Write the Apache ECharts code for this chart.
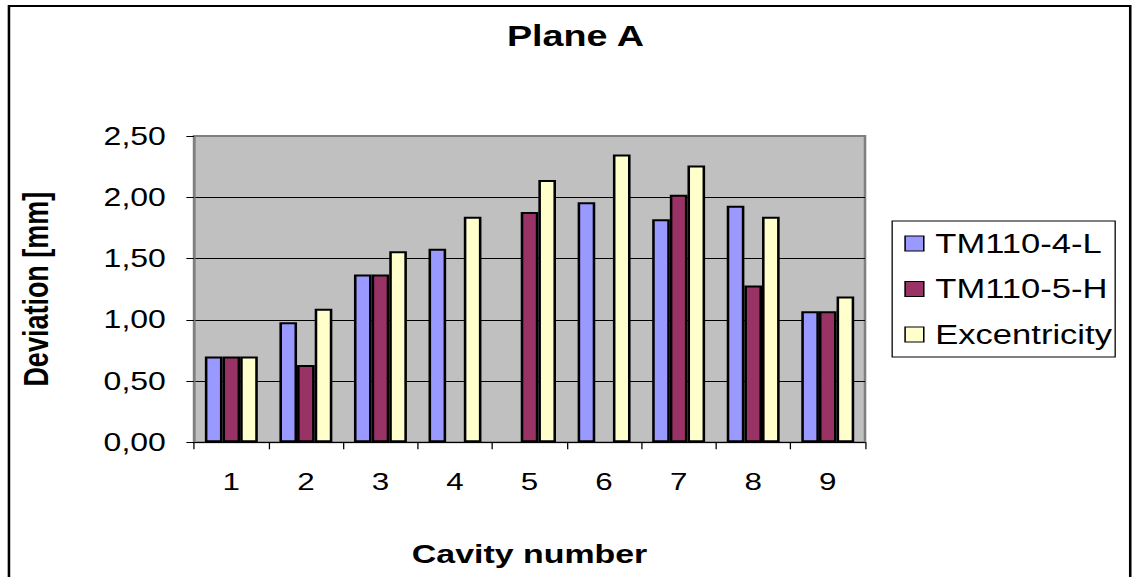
<!DOCTYPE html>
<html>
<head>
<meta charset="utf-8">
<script src="https://cdn.jsdelivr.net/npm/echarts@6/dist/echarts.min.js"></script>
<style>
  html, body { margin: 0; padding: 0; background: #ffffff; overflow: hidden; }
  #wrap { width: 1134px; height: 577px; overflow: hidden; position: relative; }
  #main { width: 886px; height: 577px; transform: scaleX(1.28); transform-origin: 0 0; position: absolute; left: 0; top: 0; }
</style>
</head>
<body>
<div id="wrap"><div id="main"></div></div>
<script>
// ---- data ----
const categories = ['1', '2', '3', '4', '5', '6', '7', '8', '9'];
const seriesNames = ['TM110-4-L', 'TM110-5-H', 'Excentricity'];
const tm110_4_L = [0.70, 0.98, 1.37, 1.58, null, 1.96, 1.82, 1.93, 1.07];
const tm110_5_H = [0.70, 0.63, 1.37, null, 1.88, null, 2.02, 1.28, 1.07];
const excentricity = [0.70, 1.09, 1.56, 1.84, 2.14, 2.35, 2.26, 1.84, 1.19];
const yTickLabels = ['0,00', '0,50', '1,00', '1,50', '2,00', '2,50'];
const yMin = 0, yMax = 2.5, yStep = 0.5;

const colors = ['#9999FF', '#993366', '#FFFFCC'];
const font = 'Liberation Sans, Arial, sans-serif';

const chart = echarts.init(document.getElementById('main'), null, { renderer: 'svg' });

function barSeries(name, data, color) {
  return {
    name: name,
    type: 'bar',
    data: data,
    barGap: '0%',
    barCategoryGap: '29%',
    itemStyle: { color: color, borderColor: '#000000', borderWidth: 2 },
    emphasis: { disabled: true },
    animation: false
  };
}

chart.setOption({
  animation: false,
  backgroundColor: '#ffffff',
  title: {
    text: 'Plane A',
    left: 396,
    top: 21,
    padding: 0,
    textStyle: { fontFamily: font, fontSize: 29.5, fontWeight: 'bold', color: '#000000' }
  },
  graphic: [{
    type: 'rect',
    shape: { x: 7, y: 6, width: 876, height: 600 },
    style: { fill: 'none', stroke: '#000000', lineWidth: 2 },
    silent: true,
    z: -1
  }],
  legend: {
    orient: 'vertical',
    left: 697,
    top: 221,
    padding: [9, 2.5, 9, 9.5],
    itemWidth: 14.6,
    itemHeight: 15,
    itemGap: 18.5,
    borderColor: '#000000',
    borderWidth: 1,
    backgroundColor: '#ffffff',
    icon: 'rect',
    itemStyle: { borderColor: '#000000', borderWidth: 1.2 },
    textStyle: { fontFamily: font, fontSize: 27, color: '#000000', padding: [0, 0, 0, 4] },
    data: seriesNames
  },
  grid: {
    left: 151.6,
    right: 210.2,
    top: 136,
    bottom: 134.7,
    show: true,
    backgroundColor: '#C0C0C0',
    borderColor: '#808080',
    borderWidth: 2
  },
  xAxis: {
    type: 'category',
    data: categories,
    name: 'Cavity number',
    nameLocation: 'middle',
    nameGap: 98,
    nameTextStyle: { fontFamily: font, fontSize: 26.5, fontWeight: 'bold', color: '#000000' },
    axisLine: { lineStyle: { color: '#000000', width: 1 } },
    axisTick: { show: true, length: 7, lineStyle: { color: '#000000' } },
    axisLabel: { margin: 27, fontFamily: font, fontSize: 24.5, color: '#000000' }
  },
  yAxis: {
    type: 'value',
    min: yMin,
    max: yMax,
    interval: yStep,
    name: 'Deviation [mm]',
    nameLocation: 'middle',
    nameRotate: 90,
    nameGap: 110,
    nameTextStyle: { fontFamily: font, fontSize: 27, fontWeight: 'bold', color: '#000000' },
    axisLine: { show: true, lineStyle: { color: '#808080', width: 1.5 } },
    axisTick: { show: true, length: 6, lineStyle: { color: '#000000' } },
    axisLabel: {
      margin: 22,
      fontFamily: font,
      fontSize: 25,
      color: '#000000',
      formatter: function (v) {
        const i = Math.round((v - yMin) / yStep);
        return yTickLabels[i] !== undefined ? yTickLabels[i] : '';
      }
    },
    splitLine: {
      show: true,
      lineStyle: { color: ['#000000', '#000000', '#000000', '#000000', '#000000', '#808080'], width: 1 }
    }
  },
  series: [
    barSeries(seriesNames[0], tm110_4_L, colors[0]),
    barSeries(seriesNames[1], tm110_5_H, colors[1]),
    barSeries(seriesNames[2], excentricity, colors[2])
  ]
});
</script>
</body>
</html>
